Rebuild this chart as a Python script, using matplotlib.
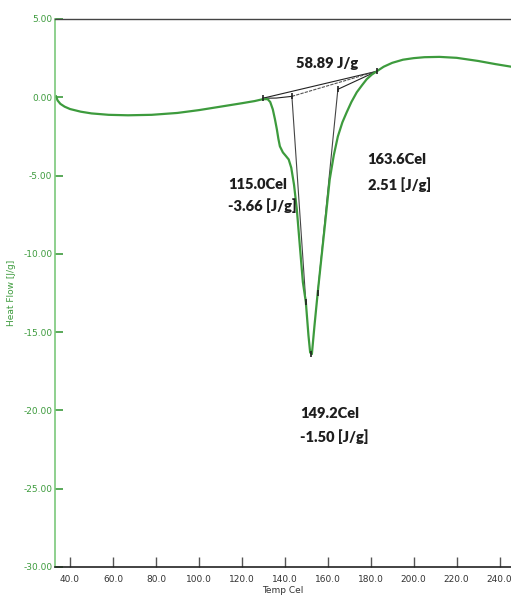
import matplotlib
matplotlib.use("Agg")
import matplotlib.pyplot as plt

# DSC trace: temperature (Cel) vs heat flow (J/g)
temp = [33.5, 34.2, 35.5, 37.5, 40.0, 45.0, 50.0, 58.0, 67.0, 78.0, 90.0, 100.0,
        110.0, 120.0, 126.0, 129.8, 132.0, 133.2, 134.4, 135.4, 136.3, 137.0,
        137.7, 139.1, 140.5, 141.8, 143.0, 144.3, 145.6, 147.0, 148.4, 149.8,
        151.0, 151.8, 152.6, 153.8, 155.3, 157.0, 158.6, 160.9, 162.8, 164.7,
        166.8, 168.8, 171.0, 173.5, 176.0, 178.1, 180.5, 182.8, 186.0, 190.0,
        195.0, 200.0, 205.0, 212.0, 220.0, 230.0, 238.0, 245.1]
heat = [0.06, -0.20, -0.42, -0.60, -0.75, -0.92, -1.03, -1.12, -1.15, -1.12, -1.00, -0.82,
        -0.60, -0.38, -0.24, -0.12, -0.12, -0.30, -0.77, -1.40, -2.05, -2.65,
        -3.13, -3.52, -3.75, -3.97, -4.50, -5.60, -7.17, -9.50, -11.8, -13.1,
        -15.2, -16.3, -16.4, -14.6, -12.5, -10.3, -8.25, -5.25, -3.70, -2.50,
        -1.60, -0.96, -0.30, 0.32, 0.78, 1.15, 1.45, 1.66, 1.95, 2.20,
        2.40, 2.50, 2.56, 2.58, 2.52, 2.32, 2.12, 1.96]

# baseline / integration construction points
base_t = [129.8, 182.8]
base_h = [-0.06, 1.66]
left_t = [129.8, 136.0, 143.3]
left_h = [-0.06, -0.05, 0.06]
drop1_t = [143.3, 149.8]
drop1_h = [0.06, -13.1]
drop2_t = [164.7, 155.3]
drop2_h = [0.51, -12.5]
mark_t = [129.8, 143.3, 164.7, 182.8, 149.8, 155.3, 152.2]
mark_h = [-0.06, 0.06, 0.51, 1.66, -13.1, -12.5, -16.4]

yticks = [5, 0, -5, -10, -15, -20, -25, -30]
xticks = [40, 60, 80, 100, 120, 140, 160, 180, 200, 220, 240]

green = "#3d9b3d"
light_green = "#7cc87c"
label_font = ["Lato", "DejaVu Sans"]

fig = plt.figure(figsize=(5.11, 6.07), dpi=100)
ax = fig.add_axes([0.1076, 0.0659, 0.8924, 0.9028])

ax.plot(base_t, base_h, color="#222222", lw=0.8)
ax.plot([143.3, 182.8], [0.06, 1.66], color="#555555", lw=0.8, ls=(0, (3, 1)))
ax.plot([164.7, 182.8], [0.51, 1.66], color="#222222", lw=0.8)
ax.plot(left_t, left_h, color="#222222", lw=0.8)
ax.plot(drop1_t, drop1_h, color="#444444", lw=0.8)
ax.plot(drop2_t, drop2_h, color="#444444", lw=0.8)
ax.plot(temp, heat, color=green, lw=1.6)
ax.plot(mark_t, mark_h, ls="none", marker="|", color="#222222", ms=5, mew=1.2)

ax.set_xlim(33.0, 245.3)
ax.set_ylim(-30, 5)
ax.set_xticks(xticks)
ax.set_xticklabels([f"{t:.1f}" for t in xticks])
ax.set_yticks(yticks)
ax.set_yticklabels([f"{t:.2f}" for t in yticks])

ax.tick_params(axis="y", direction="in", length=6, width=1.2, colors=green,
               labelsize=6.5, pad=2)
ax.tick_params(axis="x", direction="in", length=7, width=1.0, color="#555555",
               labelcolor="#333333", labelsize=6.5, pad=6)

ax.spines["left"].set_color(light_green)
ax.spines["left"].set_linewidth(1.2)
ax.spines["bottom"].set_color("#222222")
ax.spines["bottom"].set_linewidth(1.2)
ax.spines["top"].set_color("#444444")
ax.spines["top"].set_linewidth(1.0)
ax.spines["right"].set_visible(False)

ax.set_xlabel("Temp Cel", fontsize=6.5, color="#333333", labelpad=1)
ax.set_ylabel("Heat Flow [J/g]", fontsize=6.5, color=green, labelpad=5)

txt = dict(fontsize=10.5, fontweight="heavy", color="#1e1e1e", family=label_font,
           va="center")
ax.text(159.5, 2.15, "58.89 J/g", ha="center", **txt)
ax.text(113.5, -5.55, "115.0Cel", ha="left", **txt)
ax.text(113.5, -6.9, "-3.66 [J/g]", ha="left", **txt)
ax.text(178.6, -3.95, "163.6Cel", ha="left", **txt)
ax.text(178.6, -5.55, "2.51 [J/g]", ha="left", **txt)
ax.text(147.0, -20.2, "149.2Cel", ha="left", **txt)
ax.text(147.0, -21.7, "-1.50 [J/g]", ha="left", **txt)

fig.savefig("out.png", dpi=100)
